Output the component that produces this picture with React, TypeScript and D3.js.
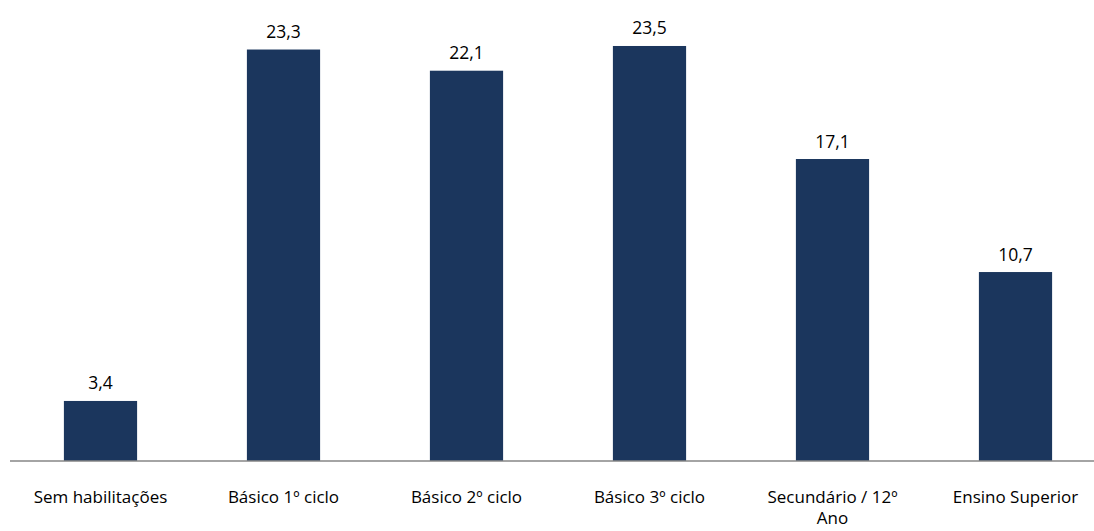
import React, { useEffect, useRef } from "react";
import * as d3 from "d3";

const categories = ["Sem habilitações", "Básico 1º ciclo", "Básico 2º ciclo", "Básico 3º ciclo", "Secundário / 12º Ano", "Ensino Superior"];
const values = [3.4, 23.3, 22.1, 23.5, 17.1, 10.7];

const W = 1094;
const H = 531;
const FONT = "'Open Sans', sans-serif";

export default function App() {
  const ref = useRef<SVGSVGElement>(null);

  useEffect(() => {
    const svg = d3.select(ref.current);
    svg.selectAll("*").remove();

    const x = d3.scaleBand<string>().domain(categories).range([9, 1107]).paddingInner(0.6).paddingOuter(0.3);
    const y = d3.scaleLinear().domain([0, 25]).range([461, 19.5]);

    svg.append("g")
      .selectAll("rect")
      .data(values)
      .join("rect")
      .attr("x", (_, i) => x(categories[i])!)
      .attr("width", x.bandwidth())
      .attr("y", (d) => y(d))
      .attr("height", (d) => y(0) - y(d))
      .attr("fill", "#1b365d");

    svg.append("g")
      .selectAll("text")
      .data(values)
      .join("text")
      .attr("x", (_, i) => x(categories[i])! + x.bandwidth() / 2)
      .attr("y", (d) => y(d) - 11.5)
      .attr("text-anchor", "middle")
      .attr("font-family", FONT)
      .attr("font-size", 17.5)
      .attr("fill", "#000")
      .text((d) => d.toFixed(1).replace(".", ","));

    svg.append("line")
      .attr("x1", 10)
      .attr("x2", W)
      .attr("y1", y(0))
      .attr("y2", y(0))
      .attr("stroke", "#868686")
      .attr("stroke-width", 1.5);

    const maxW = 165;
    const labels = svg.append("g")
      .selectAll("text")
      .data(categories)
      .join("text")
      .attr("x", (d) => x(d)! + x.bandwidth() / 2)
      .attr("y", 503)
      .attr("text-anchor", "middle")
      .attr("font-family", FONT)
      .attr("font-size", 17)
      .attr("fill", "#000");

    labels.each(function (d) {
      const t = d3.select(this);
      const cx = +t.attr("x");
      const words = d.split(" ");
      let line: string[] = [];
      let tspan = t.append("tspan").attr("x", cx).attr("dy", 0);
      for (const w of words) {
        line.push(w);
        tspan.text(line.join(" "));
        if ((tspan.node() as SVGTSpanElement).getComputedTextLength() > maxW && line.length > 1) {
          line.pop();
          tspan.text(line.join(" "));
          line = [w];
          tspan = t.append("tspan").attr("x", cx).attr("dy", 21).text(w);
        }
      }
    });
  }, []);

  return <svg ref={ref} width={W} height={H} style={{ position: "absolute", left: 0, top: 0 }} />;
}
